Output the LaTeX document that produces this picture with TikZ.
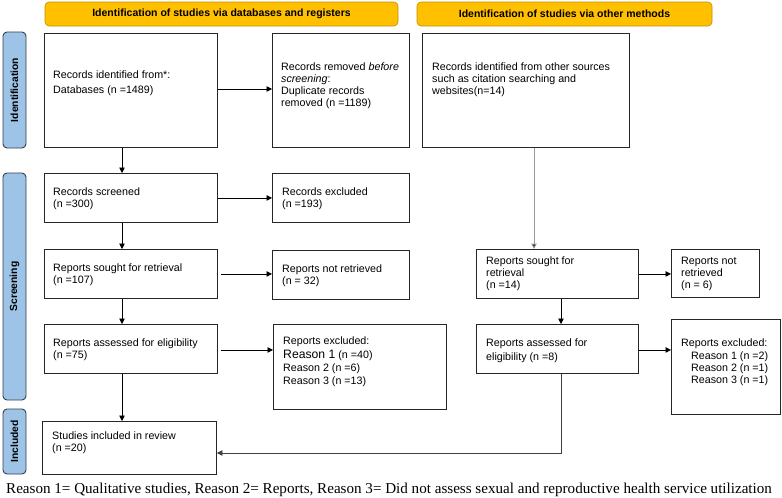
\documentclass[tikz,border=0pt]{standalone}
\usepackage{fontspec}
\setmainfont{Liberation Serif}
\setsansfont{Liberation Sans}
\usetikzlibrary{arrows.meta,calc}
\definecolor{bannerfill}{HTML}{FFC000}
\definecolor{bannerdraw}{HTML}{BF9000}
\definecolor{sidefill}{HTML}{9DC3E6}
\definecolor{sidedraw}{HTML}{333F50}
\definecolor{boxdraw}{HTML}{262626}
\definecolor{grayline}{HTML}{9A9A9A}
\begin{document}
\begin{tikzpicture}[x=1pt,y=-1pt,
  box/.style={draw=boxdraw, line width=0.9pt, fill=white, inner sep=0pt, anchor=north west},
  txt/.style={font=\sffamily\fontsize{10.7}{12}\selectfont, align=left, inner sep=0pt, anchor=north west},
  banner/.style={draw=bannerdraw, line width=0.6pt, fill=bannerfill, rounded corners=4pt, inner sep=0pt,
    font=\sffamily\bfseries\fontsize{10.5}{12}\selectfont},
  side/.style={draw=sidedraw, line width=0.9pt, fill=sidefill, rounded corners=4pt, inner sep=0pt,
    rotate=90, font=\sffamily\bfseries\fontsize{10.3}{12}\selectfont},
  arr/.style={draw=black, line width=0.7pt, -{Triangle[length=5.5pt,width=5.5pt]}},
  garr/.style={draw=grayline, line width=1pt, -{Triangle[length=5.5pt,width=5.5pt,fill=black]}}
]
\useasboundingbox (0,0) rectangle (782,498);

% banners
\node[banner, minimum width=353pt, minimum height=24pt] (ban1) at (221.5,14) {Identification of studies via databases and registers};
\node[banner, minimum width=295pt, minimum height=24pt] (ban2) at (564.5,14) {Identification of studies via other methods};

% side labels
\node[side, minimum width=116pt, minimum height=23pt] (sid) at (14.5,90) {Identification};
\node[side, minimum width=227pt, minimum height=23pt] (sscr) at (14.5,286.5) {Screening};
\node[side, minimum width=65pt, minimum height=23pt] (sinc) at (14.5,441.5) {Included};

% boxes
\node[box, minimum width=173pt, minimum height=114pt] (rid) at (44,33) {};
\node[txt] (trid) at (53,71) {Records identified from*:\\[3pt]Databases (n =1489)};

\node[box, minimum width=137pt, minimum height=114pt] (rrm) at (272,33) {};
\node[txt] (trrm) at (281,63) {Records removed \textit{before}\\\textit{screening}:\\Duplicate records\\removed (n =1189)};

\node[box, minimum width=207pt, minimum height=114pt] (oth) at (422,33) {};
\node[txt] (toth) at (432,63) {Records identified from other sources\\such as citation searching and\\websites(n=14)};

\node[box, minimum width=173pt, minimum height=49pt] (rsc) at (44,173) {};
\node[txt] (trsc) at (53,188) {Records screened\\(n =300)};

\node[box, minimum width=137pt, minimum height=49pt] (rex) at (272,173) {};
\node[txt] (trex) at (282,188) {Records excluded\\(n =193)};

\node[box, minimum width=173pt, minimum height=49pt] (rso) at (44,249) {};
\node[txt] (trso) at (53,264) {Reports sought for retrieval\\(n =107)};

\node[box, minimum width=137pt, minimum height=49pt] (rnr) at (272,250) {};
\node[txt] (trnr) at (282,265) {Reports not retrieved\\(n = 32)};

\node[box, minimum width=173pt, minimum height=49pt] (ras) at (44,324) {};
\node[txt] (tras) at (53,339) {Reports assessed for eligibility\\(n =75)};

\node[box, minimum width=173pt, minimum height=85pt] (rexc) at (273,324) {};
\node[txt, font=\sffamily\fontsize{10.7}{13.3}\selectfont] (trexc) at (283,337) {Reports excluded:\\{\fontsize{12.2}{13}\selectfont Reason 1} (n =40)\\Reason 2 (n =6)\\Reason 3 (n =13)};

\node[box, minimum width=174pt, minimum height=53pt] (inc) at (42,421) {};
\node[txt] (tinc) at (52,432) {Studies included in review\\(n =20)};

\node[box, minimum width=162pt, minimum height=49pt] (oso) at (476,249) {};
\node[txt] (toso) at (486,257) {Reports sought for\\retrieval\\(n =14)};

\node[box, minimum width=88pt, minimum height=48pt] (onr) at (671,249) {};
\node[txt] (tonr) at (681,257) {Reports not\\retrieved\\(n = 6)};

\node[box, minimum width=162pt, minimum height=49pt] (oas) at (476,324) {};
\node[txt, font=\sffamily\fontsize{10.7}{14}\selectfont] (toas) at (486,339) {Reports assessed for\\eligibility (n =8)};

\node[box, minimum width=109pt, minimum height=95pt] (oex) at (671,319) {};
\node[txt, font=\sffamily\fontsize{10.7}{12.3}\selectfont] (toex) at (681,339) {Reports excluded:\\\hspace*{10pt}Reason 1 (n =2)\\\hspace*{10pt}Reason 2 (n =1)\\\hspace*{10pt}Reason 3 (n =1)};

% caption
\node[font=\rmfamily\fontsize{15.1}{17}\selectfont, anchor=base west, inner sep=0pt] (cap) at (6,493) {Reason 1= Qualitative studies, Reason 2= Reports, Reason 3= Did not assess sexual and reproductive health service utilization};

% column coordinates
\coordinate (cl) at (122,0);
\coordinate (cr1) at (534,0);
\coordinate (cr2) at (561,0);
\coordinate (turn) at (561,453);

% connectors
\draw[arr] (rid.east |- 0,89) -- (rrm.west |- 0,89);
\draw[arr] (rid.south -| cl) -- (rsc.north -| cl);
\draw[arr] (rsc.east) -- (rsc.east -| rex.west);
\draw[arr] (rsc.south -| cl) -- (rso.north -| cl);
\draw[arr] ($(rso.east)+(3,0)$) -- (rso.east -| rnr.west);
\draw[arr] (rso.south -| cl) -- (ras.north -| cl);
\draw[arr] ($(ras.east)+(3,1)$) -- ($(ras.east -| rexc.west)+(0,1)$);
\draw[arr] (ras.south -| cl) -- (inc.north -| cl);

\draw[garr] (oth.south -| cr1) -- (oso.north -| cr1);
\draw[arr] (oso.east) -- (oso.east -| onr.west);
\draw[arr] (oso.south -| cr2) -- (oas.north -| cr2);
\draw[arr] ($(oas.east)+(0,1)$) -- ($(oas.east -| oex.west)+(0,1)$);
\draw[arr, draw=black!75] (oas.south -| cr2) -- (turn) -- (turn -| inc.east);
\end{tikzpicture}
\end{document}
